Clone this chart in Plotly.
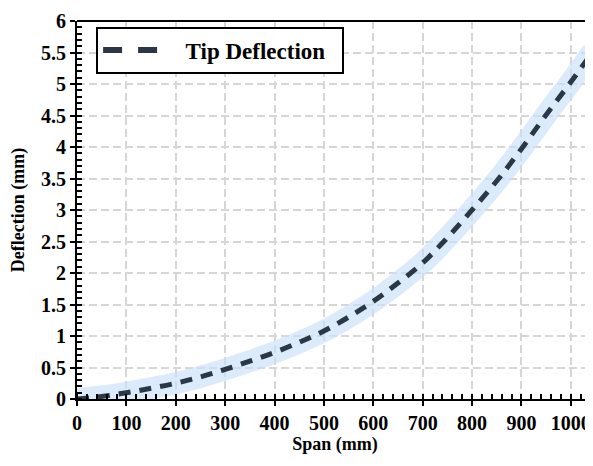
import plotly.graph_objects as go

span_mm = [0, 50, 100, 150, 200, 250, 300, 350, 400, 450, 500, 550, 600, 650,
           700, 750, 800, 850, 900, 950, 1000, 1045]
deflection_mm = [0, 0.04, 0.10, 0.17, 0.25, 0.35, 0.47, 0.60, 0.74, 0.90, 1.08,
                 1.30, 1.55, 1.84, 2.16, 2.56, 3.00, 3.46, 3.97, 4.51, 5.03, 5.52]
series_name = "Tip Deflection"
x_title = "Span (mm)"
y_title = "Deflection (mm)"

FONT = "Liberation Serif"
LINE_COLOR = "#2a3846"
fig = go.Figure()

fig.add_trace(go.Scatter(x=span_mm, y=deflection_mm, mode="lines",
                         line=dict(color="rgba(200,225,250,0.65)", width=22, shape="spline"),
                         showlegend=False, hoverinfo="skip"))
fig.add_trace(go.Scatter(x=span_mm, y=deflection_mm, mode="lines", showlegend=False,
                         name=series_name,
                         line=dict(color=LINE_COLOR, width=5, dash="12px,9px", shape="spline")))
# legend entry (longer dashes, as in the reference legend)
fig.add_trace(go.Scatter(x=[None], y=[None], mode="lines",
                         name="&nbsp;&nbsp;<b>" + series_name + "</b>&nbsp;&nbsp;",
                         line=dict(color=LINE_COLOR, width=6, dash="19px,16px")))
# helper trace for overlay tick axes
fig.add_trace(go.Scatter(x=[None], y=[None], xaxis="x2", yaxis="y2", showlegend=False))

tickfont = dict(family=FONT, size=20, color="black")
common = dict(showline=True, linecolor="black", linewidth=2, ticks="outside", ticklen=5,
              tickwidth=2, tickcolor="black", tickfont=tickfont, zeroline=False,
              showgrid=True, gridcolor="#d6d6d6", gridwidth=1.5, griddash="8px,4px",
              automargin=False, ticklabeloverflow="allow")

# page body has an 8px margin, so the figure is offset by 8px
fig.update_layout(
    width=593, height=466,
    margin=dict(l=69, r=8, t=13, b=75),
    plot_bgcolor="white", paper_bgcolor="white",
    font=dict(family=FONT, size=18, color="black"),
    xaxis=dict(range=[0, 1045], dtick=100, tick0=0,
               title=dict(text="<b>" + x_title + "</b>", font=dict(family=FONT, size=18), standoff=3),
               minor=dict(dtick=20, ticks="inside", ticklen=5, tickwidth=1.5, tickcolor="black", showgrid=False),
               tickprefix="<b>", ticksuffix="</b>", **common),
    yaxis=dict(range=[0, 6], dtick=0.5, tick0=0,
               title=dict(text="<b>" + y_title + "</b>", font=dict(family=FONT, size=18), standoff=13),
               minor=dict(dtick=0.1, ticks="inside", ticklen=5, tickwidth=1.5, tickcolor="black", showgrid=False),
               tickprefix="<b>", ticksuffix="</b>", **common),
    xaxis2=dict(range=[0, 1045], dtick=100, overlaying="x", side="bottom", anchor="y",
                ticks="inside", ticklen=5, tickwidth=2, tickcolor="black",
                showticklabels=False, showgrid=False, zeroline=False, showline=False),
    yaxis2=dict(range=[0, 6], dtick=0.5, overlaying="y", side="left", anchor="x",
                ticks="inside", ticklen=5, tickwidth=2, tickcolor="black",
                showticklabels=False, showgrid=False, zeroline=False, showline=False),
    legend=dict(x=0.037, y=0.985, xanchor="left", yanchor="top",
                bgcolor="white", bordercolor="black", borderwidth=2,
                font=dict(family=FONT, size=23, color="black"), itemwidth=66),
    shapes=[dict(type="line", xref="paper", yref="paper", x0=0, x1=1, y0=1, y1=1,
                 line=dict(color="black", width=2))],
)
fig.write_html("out.html")
